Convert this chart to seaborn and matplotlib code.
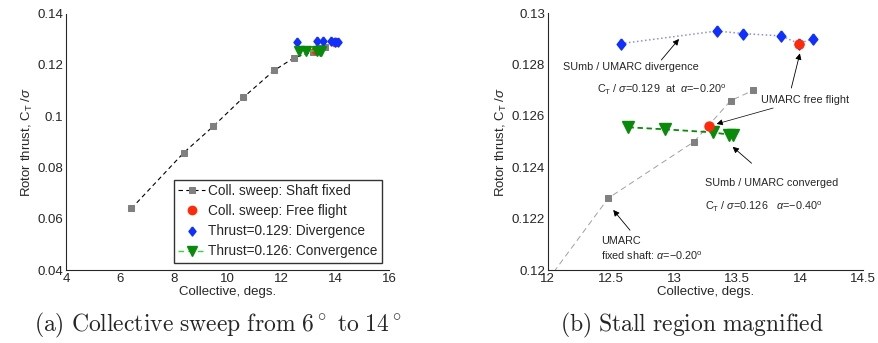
import numpy as np
import pandas as pd
import seaborn as sns
import matplotlib as mpl
mpl.use("Agg")
import matplotlib.pyplot as plt
from matplotlib.ticker import FormatStrFormatter

# collective sweep, shaft fixed
shaft_coll = [6.43, 8.38, 9.47, 10.59, 11.73, 12.48, 13.16, 13.45, 13.63]
shaft_ct = [0.0640, 0.0858, 0.0960, 0.1073, 0.1178, 0.1228, 0.1250, 0.1266, 0.1270]
# collective sweep, free flight
free_coll = [13.28, 13.99]
free_ct = [0.12561, 0.12882]
# thrust = 0.129, divergence
div_coll = [12.58, 13.34, 13.55, 13.85, 13.99, 14.10]
div_ct = [0.12882, 0.12931, 0.12921, 0.12912, 0.12882, 0.12901]
# thrust = 0.126, convergence
conv_coll = [12.64, 12.93, 13.31, 13.44, 13.47]
conv_ct = [0.12556, 0.12548, 0.12536, 0.12527, 0.12525]

shaft = pd.DataFrame({"coll": shaft_coll, "ct": shaft_ct})
free = pd.DataFrame({"coll": free_coll, "ct": free_ct})
div = pd.DataFrame({"coll": div_coll, "ct": div_ct})
conv = pd.DataFrame({"coll": conv_coll, "ct": conv_ct})

sns.set_style("white")
plt.rcParams['font.family'] = ['Liberation Sans', 'DejaVu Sans']
plt.rcParams['mathtext.fontset'] = 'custom'
plt.rcParams['mathtext.rm'] = 'Liberation Sans'
plt.rcParams['mathtext.it'] = 'Liberation Sans:italic'
plt.rcParams['font.size'] = 9

RED = '#ff2a0a'
BLUE = '#1030ff'
GREEN = '#0a8a0a'
GRAY = '#808080'
# matlab-like diamond (a bit wider than matplotlib's 'd')
DIAM = [(0, 1), (0.78, 0), (0, -1), (-0.78, 0), (0, 1)]

fig = plt.figure(figsize=(8.79, 3.43), dpi=100)
ax1 = fig.add_axes([0.0751, 0.2128, 0.3675, 0.7478])
ax2 = fig.add_axes([0.6231, 0.2128, 0.3590, 0.7484])

ylab = r"Rotor thrust, C$_\mathregular{T}$ /$\sigma$"

# ---- (a) full sweep
sns.lineplot(data=shaft, x="coll", y="ct", ax=ax1, color='k', lw=0.8, sort=False,
             linestyle=(0, (4, 3)), marker='s', markersize=5, markerfacecolor=GRAY,
             markeredgecolor=GRAY, label="Coll. sweep: Shaft fixed")
ax1.plot(free.coll, free.ct, 'o', color=RED, markersize=6, label="Coll. sweep: Free flight")
ax1.plot(div.coll, div.ct, marker=DIAM, ls='none', color=BLUE, markersize=6.5,
         label="Thrust=0.129: Divergence")
ax1.plot(conv.coll, conv.ct, 'v', color='#33dd33', linestyle=(0, (4, 3)), lw=1,
         markerfacecolor=GREEN, markeredgecolor=GREEN, markersize=6.5,
         label="Thrust=0.126: Convergence")
ax1.set_xlim(4, 16)
ax1.set_ylim(0.04, 0.14)
ax1.set_xticks(np.arange(4, 17, 2))
ax1.set_yticks(np.arange(0.04, 0.141, 0.02))
ax1.yaxis.set_major_formatter(FormatStrFormatter('%g'))
leg = ax1.legend(loc='lower right', fontsize=9.8, frameon=True, fancybox=False,
                 edgecolor='k', handlelength=2.0, handletextpad=0.2, borderpad=0.3,
                 labelspacing=0.45, borderaxespad=0.55)
leg.get_frame().set_linewidth(1.0)

# ---- (b) stall region
sns.lineplot(data=shaft, x="coll", y="ct", ax=ax2, color='#a0a0a0', lw=0.7, sort=False,
             linestyle=(0, (6, 4)), marker='s', markersize=4.5, markerfacecolor=GRAY,
             markeredgecolor=GRAY)
sns.lineplot(data=div, x="coll", y="ct", ax=ax2, color='#8a8aff', lw=1.1, sort=False,
             linestyle=':')
ax2.plot(div.coll, div.ct, marker=DIAM, ls='none', color=BLUE, markersize=8)
sns.lineplot(data=conv, x="coll", y="ct", ax=ax2, color=GREEN, lw=1.3, sort=False,
             linestyle=(0, (3, 2)))
ax2.plot(conv.coll, conv.ct, 'v', color=GREEN, markersize=8)
ax2.plot(free.coll, free.ct, 'o', color=RED, markersize=6.5)
ax2.set_xlim(12, 14.5)
ax2.set_ylim(0.12, 0.13)
ax2.set_xticks(np.arange(12, 14.51, 0.5))
ax2.set_yticks(np.arange(0.12, 0.1301, 0.002))
ax2.xaxis.set_major_formatter(FormatStrFormatter('%g'))
ax2.yaxis.set_major_formatter(FormatStrFormatter('%g'))

arrow = dict(arrowstyle='-|>', color='k', lw=0.6, mutation_scale=9, shrinkA=0, shrinkB=0)
fs = 7.8
ax2.annotate("", xy=(13.04, 0.12900), xytext=(12.90, 0.12818), arrowprops=arrow)
ax2.text(12.12, 0.12790, "SUmb / UMARC divergence", fontsize=fs, va='center')
ax2.text(12.39, 0.12701, r"C$_\mathregular{T}$ / $\sigma$=0.129  at  $\alpha$=$-$0.20$^\mathregular{o}$",
         fontsize=fs, va='center')
ax2.annotate("", xy=(13.998, 0.12844), xytext=(13.93, 0.12709), arrowprops=arrow)
ax2.text(13.69, 0.12662, "UMARC free flight", fontsize=fs, va='center')
ax2.annotate("", xy=(13.338, 0.12569), xytext=(13.786, 0.12631), arrowprops=dict(arrow, lw=0.5))
ax2.annotate("", xy=(13.465, 0.12480), xytext=(13.615, 0.12416), arrowprops=arrow)
ax2.text(13.25, 0.12338, "SUmb / UMARC converged", fontsize=fs, va='center')
ax2.text(13.25, 0.12247, r"C$_\mathregular{T}$ / $\sigma$=0.126   $\alpha$=$-$0.40$^\mathregular{o}$",
         fontsize=fs, va='center')
ax2.annotate("", xy=(12.519, 0.12234), xytext=(12.652, 0.12155), arrowprops=arrow)
ax2.text(12.42, 0.12114, "UMARC", fontsize=fs, va='center')
ax2.text(12.42, 0.12055, r"fixed shaft: $\alpha$=$-$0.20$^\mathregular{o}$", fontsize=fs, va='center')

for ax in (ax1, ax2):
    sns.despine(ax=ax)
    ax.spines['left'].set_linewidth(0.8)
    ax.spines['bottom'].set_linewidth(0.8)
    ax.tick_params(direction='in', length=4, width=0.8, labelsize=9.5, pad=2)
    ax.set_xlabel("Collective, degs.", fontsize=9.5, labelpad=1)
    ax.set_ylabel(ylab, fontsize=9.5, labelpad=2)

fig.text(0.248, 0.052, r"$\mathrm{(a)\ Collective\ sweep\ from\ 6^\circ\ to\ 14^\circ}$",
         ha='center', va='center', fontsize=17, math_fontfamily='cm')
fig.text(0.787, 0.052, r"$\mathrm{(b)\ Stall\ region\ magnified}$", ha='center', va='center',
         fontsize=17, math_fontfamily='cm')

plt.savefig("out.png", dpi=100)
